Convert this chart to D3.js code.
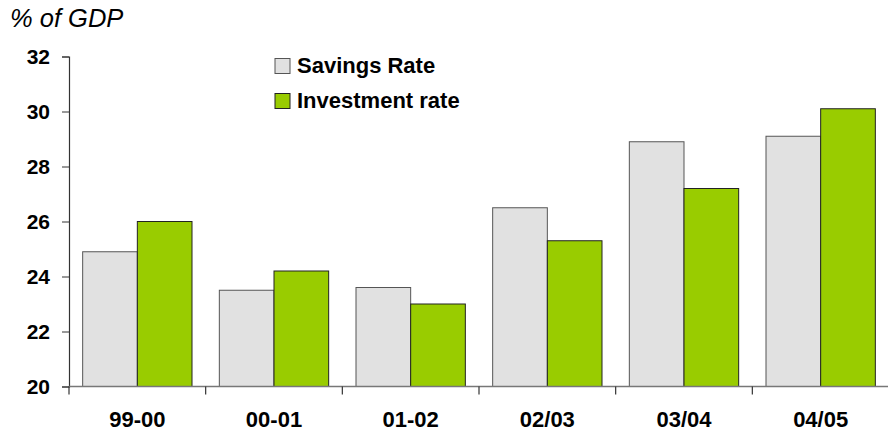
<!DOCTYPE html>
<html>
<head>
<meta charset="utf-8">
<script src="https://cdn.jsdelivr.net/npm/d3@7"></script>
<style>
  html, body { margin: 0; padding: 0; background: #fff; }
  svg { display: block; }
  text { font-family: "Liberation Sans", Arial, sans-serif; fill: #000; }
</style>
</head>
<body>
<div id="chart"></div>
<script>
// Savings and investment as a share of GDP, by fiscal year
const categories = ["99-00", "00-01", "01-02", "02/03", "03/04", "04/05"];
const seriesNames = ["Savings Rate", "Investment rate"];
const savingsRate = [24.9, 23.5, 23.6, 26.5, 28.9, 29.1];
const investmentRate = [26.0, 24.2, 23.0, 25.3, 27.2, 30.1];
const yTicks = [20, 22, 24, 26, 28, 30, 32];
const unitLabel = "% of GDP";

const seriesValues = [savingsRate, investmentRate];
const fills = ["#e1e1e1", "#99cc00"];
const strokes = ["#555555", "#222222"];

const width = 888, height = 432;
const svg = d3.select("#chart").append("svg")
  .attr("width", width).attr("height", height);

const y = d3.scaleLinear().domain([20, 32]).range([386.5, 56.5]);
const x = d3.scaleBand().domain(categories).range([69, 889])
  .paddingInner(0.2).paddingOuter(0.1);
const xSeries = d3.scaleBand().domain(seriesNames).range([0, x.bandwidth()]);
const step = x.step();

// Bars
const groups = svg.append("g").selectAll("g")
  .data(categories)
  .join("g")
  .attr("transform", d => `translate(${x(d)},0)`);

groups.selectAll("rect")
  .data((c, i) => seriesNames.map((s, k) => ({ s, k, v: seriesValues[k][i] })))
  .join("rect")
  .attr("x", d => xSeries(d.s))
  .attr("y", d => y(d.v))
  .attr("width", xSeries.bandwidth())
  .attr("height", d => y(20) - y(d.v))
  .attr("fill", d => fills[d.k])
  .attr("stroke", d => strokes[d.k])
  .attr("stroke-width", 1);

// Y axis
const yAxis = svg.append("g").attr("transform", "translate(69,0)")
  .call(d3.axisLeft(y).tickValues(yTicks).tickSize(7).tickPadding(12).tickFormat(d3.format("d")));
yAxis.select(".domain").attr("stroke", "#333").attr("stroke-width", 1.2);
yAxis.selectAll(".tick line").attr("stroke", "#333");
yAxis.selectAll(".tick text")
  .style("font-family", "'Liberation Sans', Arial, sans-serif")
  .style("font-size", "21px").style("font-weight", "bold")
  .attr("fill", "#000");

// X axis: baseline with ticks at category boundaries
const xAxisG = svg.append("g");
xAxisG.append("line")
  .attr("x1", 69).attr("x2", 888)
  .attr("y1", y(20)).attr("y2", y(20))
  .attr("stroke", "#777").attr("stroke-width", 1.5);
const boundaries = categories.map(c => x(c) - x.paddingOuter() * step);
xAxisG.selectAll("line.tick")
  .data(boundaries)
  .join("line")
  .attr("class", "tick")
  .attr("x1", d => d).attr("x2", d => d)
  .attr("y1", y(20)).attr("y2", y(20) + 8)
  .attr("stroke", "#333").attr("stroke-width", 1.2);
xAxisG.selectAll("text")
  .data(categories)
  .join("text")
  .attr("x", d => x(d) + x.bandwidth() / 2)
  .attr("y", 427)
  .attr("text-anchor", "middle")
  .style("font-size", "22px").style("font-weight", "bold")
  .text(d => d);

// Unit label
svg.append("text")
  .attr("x", 10).attr("y", 26.5)
  .style("font-size", "25.5px").style("font-style", "italic")
  .text(unitLabel);

// Legend
const legend = svg.append("g").selectAll("g")
  .data(seriesNames)
  .join("g")
  .attr("transform", (d, i) => `translate(275,${58.5 + i * 35})`);
legend.append("rect")
  .attr("width", 15).attr("height", 15)
  .attr("fill", (d, i) => fills[i])
  .attr("stroke", (d, i) => strokes[i]);
legend.append("text")
  .attr("x", 22).attr("y", 14.5)
  .style("font-size", "22px").style("font-weight", "bold")
  .text(d => d);
</script>
</body>
</html>
